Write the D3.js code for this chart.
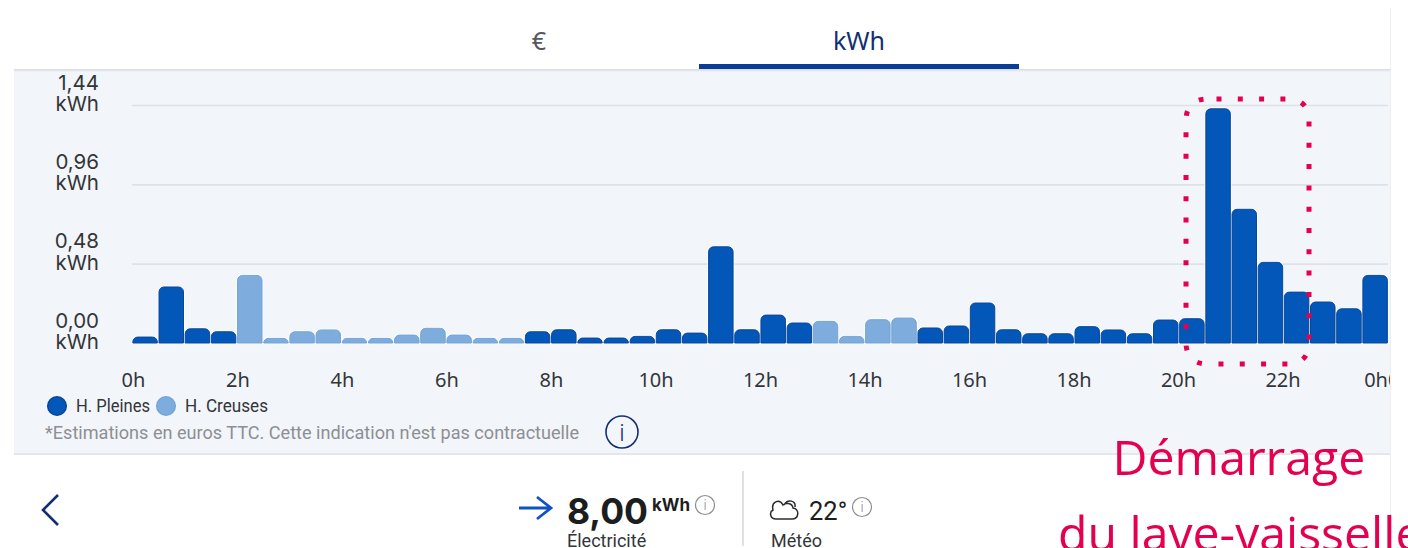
<!DOCTYPE html>
<html lang="fr"><head><meta charset="utf-8">
<script src="https://cdnjs.cloudflare.com/ajax/libs/d3/7.8.5/d3.min.js"></script>
<style>html,body{margin:0;padding:0;background:#fff;overflow:hidden}svg{display:block}</style>
</head><body><svg id="c" width="1408" height="548"></svg>
<script>
// half-hourly consumption, kWh
const slotHours = d3.range(0, 24, 0.5);
const values = [0.036,0.339,0.086,0.068,0.409,0.028,0.068,0.079,0.028,0.028,0.048,0.089,0.048,0.028,0.028,0.068,
0.080,0.030,0.030,0.040,0.080,0.060,0.582,0.080,0.169,0.121,0.131,0.040,0.141,0.151,0.091,0.103,
0.242,0.080,0.056,0.056,0.099,0.079,0.056,0.139,0.147,1.417,0.809,0.488,0.308,0.248,0.207,0.409];
const tariffs = ["P","P","P","P","C","C","C","C","C","C","C","C","C","C","C","P",
"P","P","P","P","P","P","P","P","P","P","C","C","C","C","P","P",
"P","P","P","P","P","P","P","P","P","P","P","P","P","P","P","P"];
const yTicks = [0,0.48,0.96,1.44];
const xTicks = [0,2,4,6,8,10,12,14,16,18,20,22,24];
const xTickLabels = ["0h","2h","4h","6h","8h","10h","12h","14h","16h","18h","20h","22h","0h00"];
const legendLabels = ["H. Pleines","H. Creuses"];
const tabs = ["€","kWh"];
const annotationLines = ["Démarrage","du lave-vaisselle"];

const DARK="#0257b8", LIGHT="#7dacdd", PINK="#e5004f", NAVY="#12306f", INK="#333638";
const svg=d3.select("#c");
const FONT="'Noto Sans',sans-serif";

// defs
const defs=svg.append("defs");
const sh=defs.append("linearGradient").attr("id","sh").attr("x1",0).attr("x2",0).attr("y1",0).attr("y2",1);
sh.append("stop").attr("offset",0).attr("stop-color","#d4d8de");
sh.append("stop").attr("offset",1).attr("stop-color","#f2f5fa");
defs.append("clipPath").attr("id","plotClip").append("rect").attr("x",14).attr("y",70).attr("width",1376).attr("height",384);

// panel
svg.append("rect").attr("x",14).attr("y",69).attr("width",1376).attr("height",386).attr("fill","#f2f5fa");
svg.append("rect").attr("x",14).attr("y",69).attr("width",1376).attr("height",3).attr("fill","url(#sh)");
svg.append("rect").attr("x",14).attr("y",453).attr("width",1376).attr("height",2).attr("fill","#e4e6ea");
svg.append("line").attr("x1",1390.5).attr("x2",1390.5).attr("y1",8).attr("y2",548).attr("stroke","#eceef1");

// tabs
svg.append("text").attr("x",539).attr("y",50).attr("text-anchor","middle").attr("font-family","'Noto Sans'").attr("font-size",25).attr("fill","#55585c").text(tabs[0]);
svg.append("text").attr("x",859).attr("y",50).attr("text-anchor","middle").attr("font-family","'Noto Sans'").attr("font-size",25).attr("fill",NAVY).text(tabs[1]);
svg.append("rect").attr("x",699).attr("y",64).attr("width",320).attr("height",5).attr("fill","#0a3d98");

// scales
const y=d3.scaleLinear().domain([0,1.44]).range([343,105]);
const x=d3.scaleLinear().domain([0,24]).range([133,1387]);
const band=d3.scaleBand().domain(slotHours).range([132,1388.2]).paddingInner(0.064).paddingOuter(0.032);

// y axis + grid
const gy=svg.append("g").attr("transform","translate(132,0)").call(
  d3.axisLeft(y).tickValues(yTicks).tickSize(-1256).tickPadding(33).tickFormat(()=>""));
gy.select(".domain").remove();
gy.selectAll(".tick line").attr("stroke","#dde2ea").attr("stroke-width",1.6);
gy.selectAll(".tick text").remove();
gy.selectAll(".tick").append("text").attr("text-anchor","end").attr("font-family","Inter").attr("font-size",20.5).attr("fill",INK)
  .each(function(d){const t=d3.select(this);
    t.append("tspan").attr("x",-33).attr("y",-16).text(d3.format(".2f")(d).replace(".",","));
    t.append("tspan").attr("x",-33).attr("y",5.5).text("kWh");});
gy.selectAll(".tick line").filter(d=>d===0).attr("stroke","none");

// bars
const r=5;
const barPath=d=>{const x0=band(d.h),w=band.bandwidth(),yt=y(d.v),yb=y(0),rr=Math.min(r,(yb-yt));
  return `M${x0},${yb}V${yt+rr}A${rr},${rr} 0 0 1 ${x0+rr},${yt}H${x0+w-rr}A${rr},${rr} 0 0 1 ${x0+w},${yt+rr}V${yb}Z`;};
const rows=slotHours.map((h,i)=>({h,v:values[i],t:tariffs[i]}));
const col=d=>d.t==="P"?DARK:LIGHT;
svg.append("g").selectAll("path").data(rows).join("path").attr("d",barPath).attr("fill","none").attr("stroke","#fff").attr("stroke-width",2.6);
svg.append("g").selectAll("path").data(rows).join("path").attr("d",barPath).attr("fill",col)
  .attr("stroke",d=>d.t==="P"?"#0a479b":"#74a5d8").attr("stroke-width",1);

// x axis
const gx=svg.append("g").attr("clip-path","url(#plotClip)").append("g").attr("transform","translate(0,367)").call(
  d3.axisBottom(x).tickValues(xTicks).tickSize(0).tickPadding(0).tickFormat((d,i)=>xTickLabels[i]));
gx.select(".domain").remove();
gx.selectAll("text").attr("font-family",FONT).attr("font-size",20).attr("fill",INK).attr("y",4).attr("dy","16px");

// legend
const legendX=[57,166], legendTextX=[76,185], legendLen=[74,83];
legendLabels.forEach((l,i)=>{
  svg.append("circle").attr("cx",legendX[i]).attr("cy",406).attr("r",9.3).attr("fill",i?LIGHT:DARK).attr("stroke",i?"#74a5d8":"#0a479b").attr("stroke-width",1.5);
  svg.append("text").attr("x",legendTextX[i]).attr("y",412).attr("font-family","Roboto").attr("font-size",17.5).attr("fill",INK)
    .attr("textLength",legendLen[i]).attr("lengthAdjust","spacingAndGlyphs").text(l);
});
svg.append("text").attr("x",45).attr("y",439).attr("font-family","Roboto").attr("font-size",18).attr("fill","#8c8f93")
  .attr("textLength",534).attr("lengthAdjust","spacingAndGlyphs").text("*Estimations en euros TTC. Cette indication n'est pas contractuelle");

function info(cx,cy,rad,color,sw,fs){
  svg.append("circle").attr("cx",cx).attr("cy",cy).attr("r",rad).attr("fill","none").attr("stroke",color).attr("stroke-width",sw);
  svg.append("text").attr("x",cx).attr("y",cy+fs*0.36).attr("text-anchor","middle").attr("font-family","Roboto").attr("font-size",fs).attr("font-weight",300).attr("fill",color).text("i");
}
info(622,432,16,NAVY,1.6,24);

// footer
svg.append("path").attr("d","M58,495L43,510L58,525").attr("fill","none").attr("stroke",NAVY).attr("stroke-width",2.6);
svg.append("path").attr("d","M519,508H550M537,497L551,508L537,519").attr("fill","none").attr("stroke","#0f52c4").attr("stroke-width",2.8);
svg.append("text").attr("x",567).attr("y",524).attr("font-family","Inter").attr("font-weight",700).attr("font-size",35.5).attr("fill","#1c1d1f").text("8,00");
svg.append("text").attr("x",652).attr("y",511).attr("font-family","Inter").attr("font-weight",700).attr("font-size",17).attr("fill","#1c1d1f").text("kWh");
info(705,505,9.5,"#8a8c8f",1.2,14);
svg.append("text").attr("x",567).attr("y",547).attr("font-family","Roboto").attr("font-size",18).attr("fill",INK).text("Électricité");
svg.append("line").attr("x1",743).attr("x2",743).attr("y1",471).attr("y2",546).attr("stroke","#e0e1e3").attr("stroke-width",2);
svg.append("path").attr("d","M776,519H792C799,519 800,509 793,508C792,502 785,503 783,505C779,498 771,502 773,510C769,512 770,519 776,519ZM784,505C788,498 796,501 795,507")
  .attr("fill","none").attr("stroke","#2a2c2f").attr("stroke-width",1.5);
svg.append("text").attr("x",809).attr("y",520).attr("font-family","Roboto").attr("font-size",25.5).attr("fill","#1c1d1f").text("22°");
info(862,507,9.5,"#8a8c8f",1.2,14);
svg.append("text").attr("x",771).attr("y",547).attr("font-family","Roboto").attr("font-size",18).attr("fill",INK).text("Météo");

// annotation
svg.append("path").attr("d","M1216.5,99H1287Q1309,99 1309,121V342Q1309,364 1287,364H1208Q1186,364 1186,342V121Q1186,99 1208,99H1216.5")
  .attr("fill","none").attr("stroke",PINK).attr("stroke-width",5).attr("stroke-dasharray","5 16.3");
svg.append("text").attr("x",1112.5).attr("y",475).attr("font-family","'Open Sans'").attr("font-size",48.2).attr("fill",PINK).text(annotationLines[0]);
svg.append("text").attr("x",1058).attr("y",551).attr("font-family","'Open Sans'").attr("font-size",48.2).attr("fill",PINK).text(annotationLines[1]);
</script></body></html>
